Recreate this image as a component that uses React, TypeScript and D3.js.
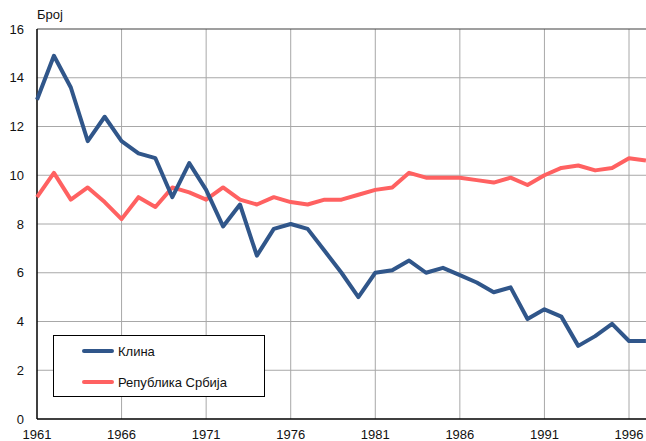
import React, { useRef, useEffect } from 'react';
import * as d3 from 'd3';

const years = d3.range(1961, 1998);

const klina = [
  13.1, 14.9, 13.6, 11.4, 12.4, 11.4, 10.9, 10.7, 9.1, 10.5,
  9.4, 7.9, 8.8, 6.7, 7.8, 8.0, 7.8, 6.9, 6.0, 5.0,
  6.0, 6.1, 6.5, 6.0, 6.2, 5.9, 5.6, 5.2, 5.4, 4.1,
  4.5, 4.2, 3.0, 3.4, 3.9, 3.2, 3.2
];

const srbija = [
  9.1, 10.1, 9.0, 9.5, 8.9, 8.2, 9.1, 8.7, 9.5, 9.3,
  9.0, 9.5, 9.0, 8.8, 9.1, 8.9, 8.8, 9.0, 9.0, 9.2,
  9.4, 9.5, 10.1, 9.9, 9.9, 9.9, 9.8, 9.7, 9.9, 9.6,
  10.0, 10.3, 10.4, 10.2, 10.3, 10.7, 10.6
];

const xTicks = [1961, 1966, 1971, 1976, 1981, 1986, 1991, 1996];
const yTicks = [0, 2, 4, 6, 8, 10, 12, 14, 16];

const series = [
  { name: 'Клина', values: klina, color: '#30568a' },
  { name: 'Република Србија', values: srbija, color: '#ff6161' }
];

const width = 646;
const height = 441;

const App: React.FC = () => {
  const ref = useRef<SVGSVGElement | null>(null);

  useEffect(() => {
    if (!ref.current) return;
    const svg = d3.select(ref.current);
    svg.selectAll('*').remove();

    const font = 'Liberation Sans, Arial, sans-serif';
    const left = 37;
    const top = 29;
    const bottom = 419;

    const x = d3.scaleLinear().domain([1961, 1996]).range([left, 629]);
    const y = d3.scaleLinear().domain([0, 16]).range([bottom, top]);

    // grid
    svg.append('g')
      .selectAll('line')
      .data(yTicks.filter(d => d > 0 && d < 16))
      .join('line')
      .attr('x1', left)
      .attr('x2', width)
      .attr('y1', d => y(d))
      .attr('y2', d => y(d))
      .attr('stroke', '#a8a8a8')
      .attr('stroke-width', 1);

    svg.append('g')
      .selectAll('line')
      .data(xTicks.filter(d => d > 1961))
      .join('line')
      .attr('x1', d => x(d))
      .attr('x2', d => x(d))
      .attr('y1', top)
      .attr('y2', bottom)
      .attr('stroke', '#a8a8a8')
      .attr('stroke-width', 1);

    // frame
    svg.append('line')
      .attr('x1', left).attr('x2', width)
      .attr('y1', top).attr('y2', top)
      .attr('stroke', '#404040').attr('stroke-width', 1.2);
    svg.append('line')
      .attr('x1', left).attr('x2', left)
      .attr('y1', top).attr('y2', bottom)
      .attr('stroke', '#000').attr('stroke-width', 1.5);
    svg.append('line')
      .attr('x1', left).attr('x2', width)
      .attr('y1', bottom).attr('y2', bottom)
      .attr('stroke', '#000').attr('stroke-width', 1.5);

    // tick labels
    svg.append('g')
      .selectAll('text')
      .data(yTicks)
      .join('text')
      .attr('x', 24)
      .attr('y', d => y(d))
      .attr('dy', '0.35em')
      .attr('text-anchor', 'end')
      .attr('font-family', font)
      .attr('font-size', 13)
      .attr('fill', '#111')
      .text(d => d);

    svg.append('g')
      .selectAll('text')
      .data(xTicks)
      .join('text')
      .attr('x', d => x(d))
      .attr('y', 438.5)
      .attr('text-anchor', 'middle')
      .attr('font-family', font)
      .attr('font-size', 13)
      .attr('fill', '#111')
      .text(d => d);

    svg.append('text')
      .attr('x', left)
      .attr('y', 19)
      .attr('font-family', font)
      .attr('font-size', 13)
      .attr('fill', '#111')
      .text('Број');

    // lines
    const line = d3.line<number>()
      .x((_, i) => x(years[i]))
      .y(d => y(d));

    series.slice().reverse().forEach(s => {
      svg.append('path')
        .datum(s.values)
        .attr('fill', 'none')
        .attr('stroke', s.color)
        .attr('stroke-width', 4)
        .attr('stroke-linejoin', 'round')
        .attr('d', line);
    });

    // legend
    const lg = svg.append('g');
    lg.append('rect')
      .attr('x', 53.5).attr('y', 335.5)
      .attr('width', 211).attr('height', 61)
      .attr('fill', '#fff')
      .attr('stroke', '#000')
      .attr('stroke-width', 1);
    series.forEach((s, i) => {
      const yy = 351 + i * 31;
      lg.append('line')
        .attr('x1', 84).attr('x2', 112)
        .attr('y1', yy).attr('y2', yy)
        .attr('stroke', s.color)
        .attr('stroke-width', 4)
        .attr('stroke-linecap', 'round');
      lg.append('text')
        .attr('x', 118)
        .attr('y', yy)
        .attr('dy', '0.35em')
        .attr('font-family', font)
        .attr('font-size', 13)
        .attr('fill', '#111')
        .text(s.name);
    });
  }, []);

  return (
    <svg
      ref={ref}
      width={width}
      height={height}
      style={{ position: 'absolute', left: 0, top: 0, background: '#fff' }}
    />
  );
};

export default App;
